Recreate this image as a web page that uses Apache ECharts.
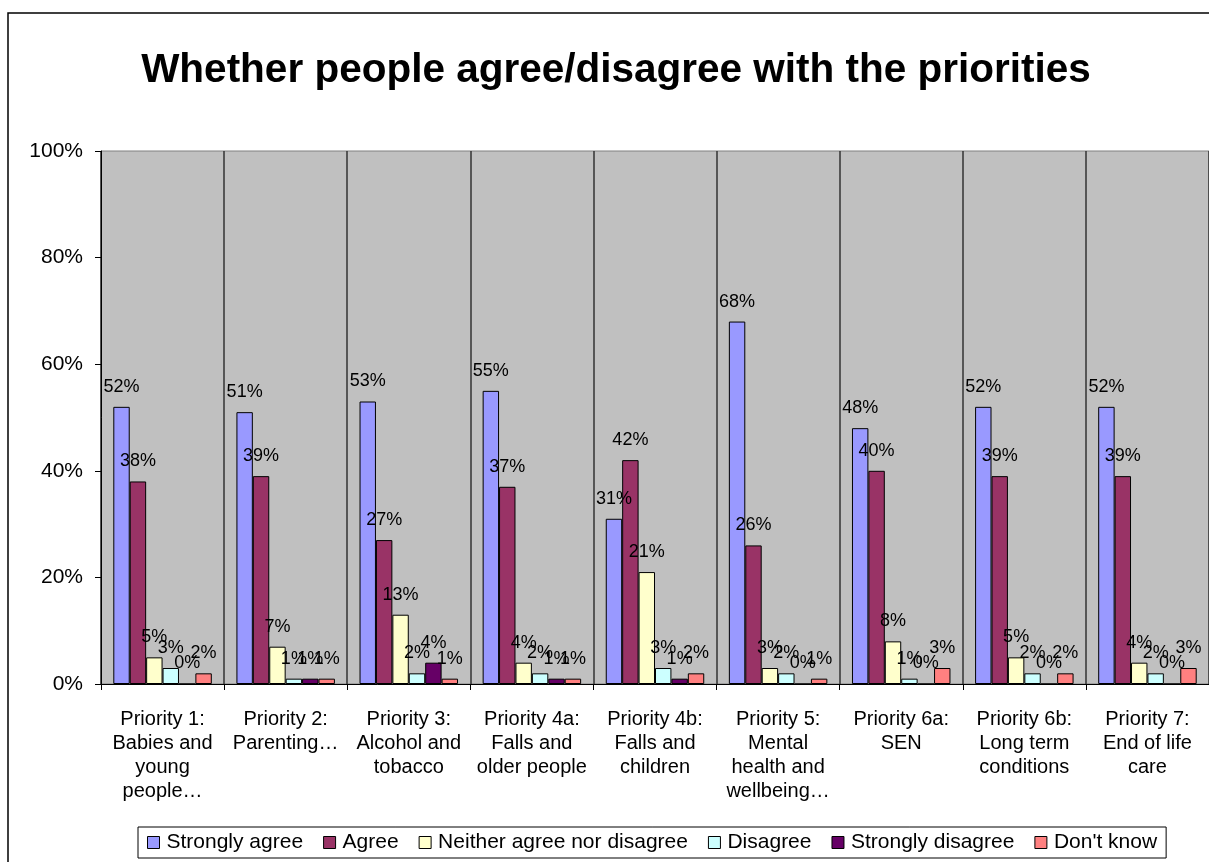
<!DOCTYPE html>
<html>
<head>
<meta charset="utf-8">
<script src="https://cdn.jsdelivr.net/npm/echarts@6/dist/echarts.min.js"></script>
<style>
  html, body { margin: 0; padding: 0; background: #fff; }
  #chart { width: 1209px; height: 862px; }
</style>
</head>
<body>
<div id="chart"></div>
<script>
// Survey responses per priority, in percent
const categories = [
  'Priority 1:\nBabies and\nyoung\npeople…',
  'Priority 2:\nParenting…',
  'Priority 3:\nAlcohol and\ntobacco',
  'Priority 4a:\nFalls and\nolder people',
  'Priority 4b:\nFalls and\nchildren',
  'Priority 5:\nMental\nhealth and\nwellbeing…',
  'Priority 6a:\nSEN',
  'Priority 6b:\nLong term\nconditions',
  'Priority 7:\nEnd of life\ncare'
];
const stronglyAgree    = [52, 51, 53, 55, 31, 68, 48, 52, 52];
const agree            = [38, 39, 27, 37, 42, 26, 40, 39, 39];
const neither          = [5, 7, 13, 4, 21, 3, 8, 5, 4];
const disagree         = [3, 1, 2, 2, 3, 2, 1, 2, 2];
const stronglyDisagree = [0, 1, 4, 1, 1, 0, 0, 0, 0];
const dontKnow         = [2, 1, 1, 1, 2, 1, 3, 2, 3];
const yTicks = [0, 20, 40, 60, 80, 100];

const FONT = "'Liberation Sans', Arial, sans-serif";

const seriesDefs = [
  { name: 'Strongly agree', data: stronglyAgree, color: '#9999FF' },
  { name: 'Agree', data: agree, color: '#993366' },
  { name: 'Neither agree nor disagree', data: neither, color: '#FFFFCC' },
  { name: 'Disagree', data: disagree, color: '#CCFFFF' },
  { name: 'Strongly disagree', data: stronglyDisagree, color: '#660066' },
  { name: "Don't know", data: dontKnow, color: '#FF8080' }
];

const chart = echarts.init(document.getElementById('chart'), null, { renderer: 'canvas' });

chart.setOption({
  animation: false,
  backgroundColor: '#fff',
  title: {
    text: 'Whether people agree/disagree with the priorities',
    left: 611,
    top: 45,
    textAlign: 'center',
    textStyle: { fontFamily: FONT, fontSize: 40.5, fontWeight: 'bold', color: '#000' }
  },
  graphic: [{
    type: 'rect',
    shape: { x: 8, y: 13, width: 1400, height: 1000 },
    style: { fill: 'none', stroke: '#000', lineWidth: 1.5 },
    silent: true,
    z: 100
  }],
  legend: {
    left: 138,
    top: 827,
    orient: 'horizontal',
    padding: [5, 9, 5, 9],
    borderColor: '#000',
    borderWidth: 1,
    itemWidth: 12,
    itemHeight: 12,
    itemGap: 20,
    icon: 'rect',
    itemStyle: { borderColor: '#000', borderWidth: 1 },
    textStyle: { fontFamily: FONT, fontSize: 21, color: '#000', padding: [0, 0, 0, 2] },
    data: seriesDefs.map(s => s.name)
  },
  grid: {
    left: 101,
    top: 151,
    width: 1109,
    height: 533,
    show: true,
    backgroundColor: '#C0C0C0',
    borderColor: '#808080',
    borderWidth: 1,
    containLabel: false
  },
  xAxis: {
    type: 'category',
    data: categories,
    boundaryGap: true,
    axisLine: { show: true, lineStyle: { color: '#000', width: 1 } },
    axisTick: { show: true, interval: 0, length: 6, lineStyle: { color: '#000' } },
    splitLine: { show: true, interval: 0, lineStyle: { color: '#333', width: 1.5 } },
    axisLabel: {
      interval: 0,
      margin: 23,
      fontFamily: FONT,
      fontSize: 20,
      lineHeight: 24,
      color: '#000',
      align: 'center'
    }
  },
  yAxis: {
    type: 'value',
    min: yTicks[0],
    max: yTicks[yTicks.length - 1],
    interval: yTicks[1] - yTicks[0],
    axisLine: { show: true, lineStyle: { color: '#000', width: 1 } },
    axisTick: { show: true, length: 6, lineStyle: { color: '#000' } },
    splitLine: { show: false },
    axisLabel: {
      formatter: '{value}%',
      margin: 18,
      fontFamily: FONT,
      fontSize: 21,
      color: '#000'
    }
  },
  series: seriesDefs.map(s => ({
    name: s.name,
    type: 'bar',
    data: s.data,
    barGap: '0%',
    barCategoryGap: '20%',
    itemStyle: { color: s.color, borderColor: '#000', borderWidth: 1 },
    label: {
      show: true,
      position: 'top',
      distance: 11,
      formatter: p => p.value + '%',
      fontFamily: FONT,
      fontSize: 18,
      color: '#000'
    }
  }))
});
</script>
</body>
</html>
